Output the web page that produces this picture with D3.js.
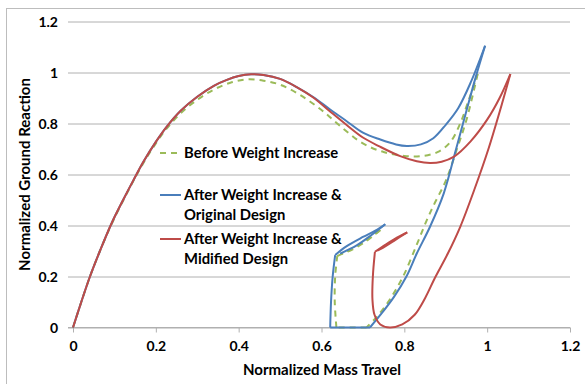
<!DOCTYPE html>
<html>
<head>
<meta charset="utf-8">
<script src="https://cdn.jsdelivr.net/npm/d3@7"></script>
<style>
    body { margin: 0; background: #fff; }
    text { font-family: Lato, "Open Sans", sans-serif; font-weight: bold; fill: #000; }
</style>
</head>
<body>
<div id="chart"></div>
<script>
const xTicks = [0, 0.2, 0.4, 0.6, 0.8, 1, 1.2]
const yTicks = [0, 0.2, 0.4, 0.6, 0.8, 1, 1.2]

// Before weight increase (green dashed)
const beforeLoad = [[0, 0], [0.02, 0.1], [0.041, 0.2], [0.065, 0.3], [0.093, 0.405], [0.121, 0.497], [0.146, 0.575],
    [0.17, 0.645], [0.2, 0.722], [0.226, 0.78], [0.26, 0.84], [0.3, 0.893], [0.34, 0.933], [0.38, 0.96], [0.42, 0.973],
    [0.46, 0.968], [0.5, 0.952], [0.548, 0.912], [0.6, 0.853], [0.645, 0.79], [0.7, 0.722], [0.75, 0.688], [0.8, 0.673],
    [0.84, 0.672], [0.88, 0.688], [0.91, 0.725], [0.935, 0.8], [0.955, 0.89], [0.977, 0.994]]
const beforeReturn = [[0.977, 0.994], [0.951, 0.82], [0.927, 0.7], [0.9, 0.575], [0.874, 0.49], [0.854, 0.42],
    [0.83, 0.325], [0.797, 0.2], [0.765, 0.11], [0.735, 0.045], [0.709, 0]]
const beforeFlight = [[0.709, 0], [0.636, 0]]
const beforeLanding = [[0.636, 0], [0.632, 0.1], [0.633, 0.2], [0.638, 0.28]]
const beforeLoopOut = [[0.638, 0.28], [0.675, 0.31], [0.71, 0.345], [0.742, 0.382]]
const beforeLoopBack = [[0.742, 0.382], [0.7, 0.33], [0.66, 0.295], [0.645, 0.288]]

// After weight increase, original design (blue)
const originalLoad = [[0, 0], [0.02, 0.1], [0.041, 0.2], [0.065, 0.3], [0.093, 0.408], [0.121, 0.5], [0.146, 0.578],
    [0.17, 0.65], [0.2, 0.728], [0.226, 0.787], [0.26, 0.85], [0.3, 0.905], [0.34, 0.948], [0.37, 0.97], [0.4, 0.986],
    [0.43, 0.993], [0.46, 0.99], [0.5, 0.975], [0.54, 0.943], [0.58, 0.904], [0.62, 0.856], [0.66, 0.81], [0.7, 0.764],
    [0.742, 0.737], [0.78, 0.718], [0.806, 0.712], [0.84, 0.718], [0.87, 0.742], [0.9, 0.795], [0.93, 0.86],
    [0.96, 0.96], [0.995, 1.105]]
const originalReturn = [[0.995, 1.105], [0.972, 0.98], [0.95, 0.85], [0.925, 0.7], [0.895, 0.525], [0.862, 0.395],
    [0.83, 0.29], [0.805, 0.2], [0.775, 0.12], [0.745, 0.055], [0.717, 0]]
const originalFlight = [[0.717, 0], [0.621, 0]]
const originalLanding = [[0.621, 0], [0.623, 0.1], [0.627, 0.2], [0.633, 0.284]]
const originalLoopOut = [[0.633, 0.284], [0.66, 0.318], [0.7, 0.355], [0.73, 0.38], [0.754, 0.405]]
const originalLoopBack = [[0.754, 0.405], [0.72, 0.362], [0.685, 0.322], [0.645, 0.29]]

// After weight increase, modified design (red)
const modifiedLoad = [[0, 0], [0.02, 0.1], [0.041, 0.2], [0.065, 0.3], [0.093, 0.408], [0.121, 0.5], [0.146, 0.578],
    [0.17, 0.65], [0.2, 0.728], [0.226, 0.787], [0.26, 0.85], [0.3, 0.905], [0.34, 0.948], [0.37, 0.97], [0.4, 0.986],
    [0.43, 0.993], [0.46, 0.99], [0.5, 0.975], [0.54, 0.943], [0.58, 0.902], [0.62, 0.848], [0.66, 0.795], [0.7, 0.745],
    [0.74, 0.71], [0.79, 0.672], [0.83, 0.652], [0.862, 0.645], [0.89, 0.65], [0.92, 0.67], [0.96, 0.73], [1.0, 0.815],
    [1.03, 0.9], [1.056, 0.994]]
const modifiedReturn = [[1.056, 0.994], [1.038, 0.89], [1.003, 0.7], [0.97, 0.545], [0.935, 0.395], [0.905, 0.29],
    [0.874, 0.195], [0.85, 0.115], [0.825, 0.05], [0.795, 0.012], [0.765, 0], [0.742, 0.012], [0.728, 0.05],
    [0.723, 0.11], [0.724, 0.2], [0.729, 0.297]]
const modifiedLoopOut = [[0.729, 0.297], [0.755, 0.325], [0.782, 0.352], [0.807, 0.373]]
const modifiedLoopBack = [[0.807, 0.373], [0.775, 0.34], [0.748, 0.312], [0.735, 0.302]]

const series = [
    {name: "before", color: "#9bbb59", dash: "6,5",
        parts: [beforeLoad, beforeReturn, beforeFlight, beforeLanding, beforeLoopOut, beforeLoopBack]},
    {name: "original", color: "#4a7ebb", dash: null,
        parts: [originalLoad, originalReturn, originalFlight, originalLanding, originalLoopOut, originalLoopBack]},
    {name: "modified", color: "#be4b48", dash: null,
        parts: [modifiedLoad, modifiedReturn, modifiedLoopOut, modifiedLoopBack]}
]

const legendItems = [
    {lines: ["Before Weight Increase"], color: "#9bbb59", dash: "6,5"},
    {lines: ["After Weight Increase &", "Original Design"], color: "#4a7ebb", dash: null},
    {lines: ["After Weight Increase &", "Midified Design"], color: "#be4b48", dash: null}
]

const W = 585, H = 384
const margin = {top: 21.5, right: 15, bottom: 56.5, left: 73}
const width = W - margin.left - margin.right
const height = H - margin.top - margin.bottom

const root = d3.select("#chart").append("svg")
    .attr("width", W)
    .attr("height", H)

// chart frame
root.append("rect")
    .attr("x", 6.5).attr("y", 8.5)
    .attr("width", 640).attr("height", 420)
    .attr("fill", "none")
    .attr("stroke", "#bdbdbd")

const svg = root.append("g")
    .attr("transform", "translate(" + margin.left + "," + margin.top + ")")

const x = d3.scaleLinear().domain([0, 1.2]).range([0, width])
const y = d3.scaleLinear().domain([0, 1.2]).range([height, 0])

// Y axis with gridlines
const yAxis = svg.append("g")
    .call(d3.axisLeft(y).tickValues(yTicks).tickSize(-width).tickSizeOuter(0).tickPadding(15)
        .tickFormat(d => d3.format("")(d)))
yAxis.select(".domain").remove()
yAxis.selectAll(".tick line")
    .attr("x1", -5)
    .attr("stroke", "#b0b0b0")
yAxis.selectAll(".tick text")
    .style("font-size", "14px")
    .attr("dy", "0.36em")

// X axis
const xAxis = svg.append("g")
    .attr("transform", "translate(0," + height + ")")
    .call(d3.axisBottom(x).tickValues(xTicks).tickSize(5).tickSizeOuter(0).tickPadding(9)
        .tickFormat(d => d3.format("")(d)))
xAxis.select(".domain").remove()
xAxis.append("line")
    .attr("x1", -5).attr("x2", width)
    .attr("stroke", "#b0b0b0")
xAxis.selectAll(".tick line").attr("stroke", "#b0b0b0")
xAxis.selectAll(".tick text").style("font-size", "14px")

// axis titles
svg.append("text")
    .attr("x", 249)
    .attr("y", height + 47)
    .attr("text-anchor", "middle")
    .style("font-size", "15px")
    .text("Normalized Mass Travel")

svg.append("text")
    .attr("transform", "translate(-43," + (153) + ") rotate(-90)")
    .attr("text-anchor", "middle")
    .style("font-size", "15px")
    .text("Normalized Ground Reaction")

// curves
const line = d3.line()
    .x(d => x(d[0]))
    .y(d => y(d[1]))
    .curve(d3.curveCatmullRom.alpha(0.5))

series.forEach(s => {
    svg.append("g")
        .attr("class", "series-" + s.name)
        .selectAll("path")
        .data(s.parts)
        .enter()
        .append("path")
        .attr("d", line)
        .attr("fill", "none")
        .attr("stroke", s.color)
        .attr("stroke-width", 2)
        .attr("stroke-dasharray", s.dash)
        .attr("stroke-linejoin", "round")
})

// legend
const legendRows = [153, 195, 239]
const legend = root.append("g")
legendItems.forEach((item, i) => {
    const ly = legendRows[i]
    legend.append("line")
        .attr("x1", 160).attr("x2", 181)
        .attr("y1", ly).attr("y2", ly)
        .attr("stroke", item.color)
        .attr("stroke-width", 2)
        .attr("stroke-dasharray", item.dash)
    item.lines.forEach((t, j) => {
        legend.append("text")
            .attr("x", 184)
            .attr("y", ly + j * 20)
            .attr("dy", "0.36em")
            .style("font-size", "14.8px")
            .text(t)
    })
})
</script>
</body>
</html>
